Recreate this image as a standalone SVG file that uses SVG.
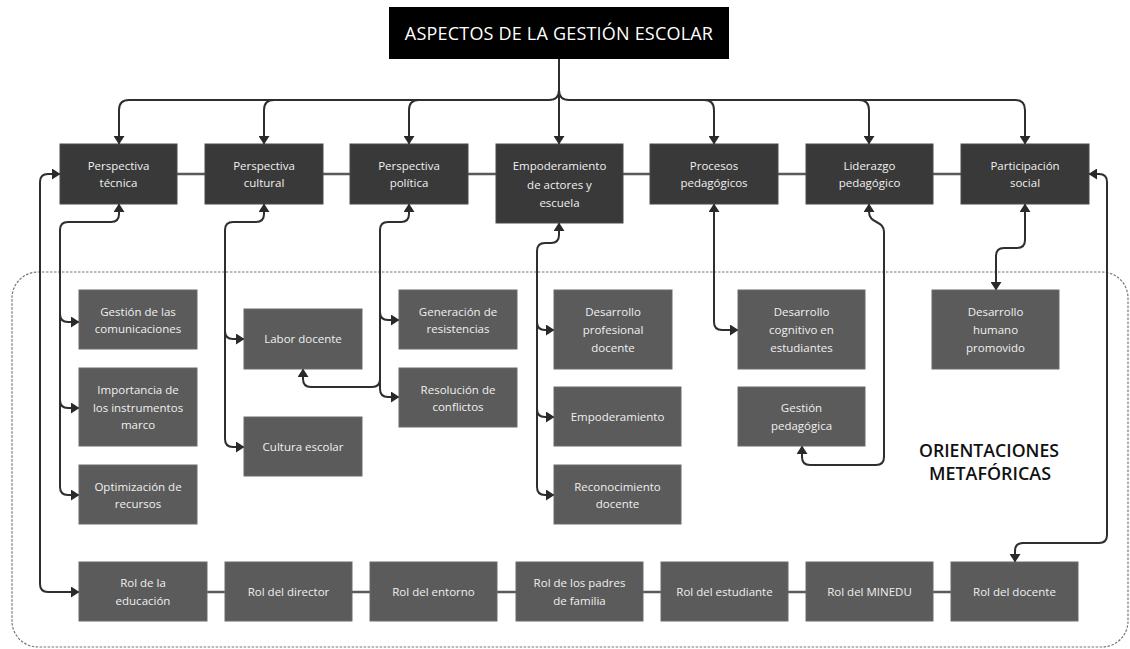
<svg xmlns="http://www.w3.org/2000/svg" width="1130" height="649" viewBox="0 0 1130 649">
<defs>
<marker id="ah" markerUnits="userSpaceOnUse" markerWidth="9" markerHeight="11" refX="8" refY="5.5" orient="auto-start-reverse" viewBox="0 0 9 11">
<path d="M0,0 L8.5,5.5 L0,11 z" fill="#2a2a2a"/>
</marker>
</defs>
<style>
.bg{fill:#ffffff}
.frame{fill:none;stroke:#777;stroke-width:1.2;stroke-dasharray:2.5 1.5}
.link{fill:none;stroke:#5a5a5a;stroke-width:2.5}
.con{fill:none;stroke:#2e2e2e;stroke-width:2}
.arr{marker-end:url(#ah)}
.both{marker-start:url(#ah);marker-end:url(#ah)}
.top{fill:#000}
.main{fill:#393939;stroke:#4a4a4a;stroke-width:1}
.sub{fill:#5b5b5b;stroke:#6a6a6a;stroke-width:1}
.t{font-family:"Open Sans","Liberation Sans",sans-serif;font-size:11.5px;fill:#f0f0f0;text-anchor:middle}
.title{font-family:"Open Sans","Liberation Sans",sans-serif;font-size:18px;fill:#fff;text-anchor:middle;letter-spacing:0.2px}
.orient{font-family:"Open Sans","Liberation Sans",sans-serif;font-size:18.5px;font-weight:600;fill:#111;text-anchor:middle}
</style>
<rect class="bg" x="0" y="0" width="1130" height="649"/>
<rect class="frame" x="12" y="272" width="1116" height="375" rx="26" ry="26"/>

<g id="links">
<path class="link" d="M60,174 H1089"/>
<path class="link" d="M79,592 H1078"/>
</g>

<g id="connectors">
<path class="con arr" d="M559,59 V144"/>
<path class="con arr" d="M559,90 Q559,100 549,100 H129 Q119,100 119,110 V144"/>
<path class="con arr" d="M274,100 Q264,100 264,110 V144"/>
<path class="con arr" d="M419,100 Q409,100 409,110 V144"/>
<path class="con arr" d="M559,90 Q559,100 569,100 H1015 Q1025,100 1025,110 V144"/>
<path class="con arr" d="M704,100 Q714,100 714,110 V144"/>
<path class="con arr" d="M859,100 Q869,100 869,110 V144"/>

<path class="con both" d="M119,204 V214 Q119,222 111,222 H68 Q60,222 60,230 V487 Q60,495 68,495 H79"/>
<path class="con arr" d="M60,314 Q60,322 68,322 H79"/>
<path class="con arr" d="M60,400 Q60,408 68,408 H79"/>

<path class="con both" d="M264,204 V214 Q264,222 256,222 H233 Q225,222 225,230 V439 Q225,447 233,447 H244"/>
<path class="con arr" d="M225,331 Q225,339 233,339 H244"/>

<path class="con both" d="M409,204 V214 Q409,222 401,222 H388 Q380,222 380,230 V389 Q380,397 388,397 H399"/>
<path class="con arr" d="M380,312 Q380,320 388,320 H399"/>
<path class="con arr" d="M380,379 Q380,387 372,387 H311 Q303,387 303,379 V369"/>

<path class="con both" d="M559,223 V235 Q559,243 551,243 H545 Q537,243 537,251 V487 Q537,495 545,495 H554"/>
<path class="con arr" d="M537,322 Q537,330 545,330 H554"/>
<path class="con arr" d="M537,409 Q537,417 545,417 H554"/>

<path class="con both" d="M714,204 V322 Q714,330 722,330 H738"/>

<path class="con both" d="M869,204 V212 C869,224 884,220 884,232 V457 Q884,465 876,465 H810 Q802,465 802,457 V446"/>

<path class="con both" d="M1025,204 V240 Q1025,248 1017,248 H1004 Q996,248 996,256 V290"/>

<path class="con both" d="M60,174 H48 Q40,174 40,182 V584 Q40,592 48,592 H79"/>
<path class="con both" d="M1089,174 H1099 Q1107,174 1107,182 V535 Q1107,543 1099,543 H1023 Q1015,543 1015,551 V562"/>
</g>

<g id="n-title"><rect class="top" x="389" y="7" width="340" height="52"/><text class="title" x="559" y="40">ASPECTOS DE LA GESTIÓN ESCOLAR</text></g>

<g id="n-tecnica"><rect class="main" x="60" y="144" width="117" height="60"/><text class="t" x="118.5" y="170">Perspectiva</text><text class="t" x="118.5" y="187">técnica</text></g>
<g id="n-cultural"><rect class="main" x="205" y="144" width="118" height="60"/><text class="t" x="264" y="170">Perspectiva</text><text class="t" x="264" y="187">cultural</text></g>
<g id="n-politica"><rect class="main" x="350" y="144" width="118" height="60"/><text class="t" x="409" y="170">Perspectiva</text><text class="t" x="409" y="187">política</text></g>
<g id="n-empoderamiento-actores"><rect class="main" x="496" y="144" width="127" height="79"/><text class="t" x="559.5" y="170">Empoderamiento</text><text class="t" x="559.5" y="188.5">de actores y</text><text class="t" x="559.5" y="207">escuela</text></g>
<g id="n-procesos"><rect class="main" x="650" y="144" width="128" height="60"/><text class="t" x="714" y="170">Procesos</text><text class="t" x="714" y="187">pedagógicos</text></g>
<g id="n-liderazgo"><rect class="main" x="806" y="144" width="127" height="60"/><text class="t" x="869.5" y="170">Liderazgo</text><text class="t" x="869.5" y="187">pedagógico</text></g>
<g id="n-participacion"><rect class="main" x="961" y="144" width="128" height="60"/><text class="t" x="1025" y="170">Participación</text><text class="t" x="1025" y="187">social</text></g>

<g id="n-gestion-com"><rect class="sub" x="79" y="290" width="118" height="59"/><text class="t" x="138" y="316">Gestión de las</text><text class="t" x="138" y="333">comunicaciones</text></g>
<g id="n-importancia"><rect class="sub" x="79" y="368" width="118" height="78"/><text class="t" x="138" y="394">Importancia de</text><text class="t" x="138" y="411.5">los instrumentos</text><text class="t" x="138" y="429">marco</text></g>
<g id="n-optimizacion"><rect class="sub" x="79" y="465" width="118" height="59"/><text class="t" x="138" y="491">Optimización de</text><text class="t" x="138" y="508">recursos</text></g>

<g id="n-labor"><rect class="sub" x="244" y="309" width="118" height="60"/><text class="t" x="303" y="343">Labor docente</text></g>
<g id="n-cultura"><rect class="sub" x="244" y="417" width="118" height="59"/><text class="t" x="303" y="451">Cultura escolar</text></g>

<g id="n-generacion"><rect class="sub" x="399" y="290" width="118" height="59"/><text class="t" x="458" y="316">Generación de</text><text class="t" x="458" y="333">resistencias</text></g>
<g id="n-resolucion"><rect class="sub" x="399" y="368" width="118" height="59"/><text class="t" x="458" y="394">Resolución de</text><text class="t" x="458" y="411">conflictos</text></g>

<g id="n-desarrollo-prof"><rect class="sub" x="554" y="290" width="118" height="79"/><text class="t" x="613" y="316">Desarrollo</text><text class="t" x="613" y="334">profesional</text><text class="t" x="613" y="352">docente</text></g>
<g id="n-empoderamiento"><rect class="sub" x="554" y="387" width="127" height="59"/><text class="t" x="617.5" y="421">Empoderamiento</text></g>
<g id="n-reconocimiento"><rect class="sub" x="554" y="465" width="127" height="59"/><text class="t" x="617.5" y="491">Reconocimiento</text><text class="t" x="617.5" y="508">docente</text></g>

<g id="n-desarrollo-cog"><rect class="sub" x="738" y="290" width="127" height="79"/><text class="t" x="801.5" y="316">Desarrollo</text><text class="t" x="801.5" y="334">cognitivo en</text><text class="t" x="801.5" y="352">estudiantes</text></g>
<g id="n-gestion-ped"><rect class="sub" x="738" y="387" width="127" height="59"/><text class="t" x="801.5" y="412">Gestión</text><text class="t" x="801.5" y="430">pedagógica</text></g>

<g id="n-desarrollo-hum"><rect class="sub" x="932" y="290" width="127" height="79"/><text class="t" x="995.5" y="316">Desarrollo</text><text class="t" x="995.5" y="334">humano</text><text class="t" x="995.5" y="352">promovido</text></g>

<g id="n-orientaciones"><text class="orient" x="989" y="457" textLength="140" lengthAdjust="spacingAndGlyphs">ORIENTACIONES</text><text class="orient" x="990" y="480" textLength="122" lengthAdjust="spacingAndGlyphs">METAFÓRICAS</text></g>

<g id="n-rol-educacion"><rect class="sub" x="79" y="562" width="128" height="59"/><text class="t" x="143" y="587">Rol de la</text><text class="t" x="143" y="605">educación</text></g>
<g id="n-rol-director"><rect class="sub" x="225" y="562" width="127" height="59"/><text class="t" x="288.5" y="596">Rol del director</text></g>
<g id="n-rol-entorno"><rect class="sub" x="370" y="562" width="127" height="59"/><text class="t" x="433.5" y="596">Rol del entorno</text></g>
<g id="n-rol-padres"><rect class="sub" x="516" y="562" width="127" height="59"/><text class="t" x="579.5" y="587">Rol de los padres</text><text class="t" x="579.5" y="605">de familia</text></g>
<g id="n-rol-estudiante"><rect class="sub" x="661" y="562" width="127" height="59"/><text class="t" x="724.5" y="596">Rol del estudiante</text></g>
<g id="n-rol-minedu"><rect class="sub" x="806" y="562" width="127" height="59"/><text class="t" x="869.5" y="596">Rol del MINEDU</text></g>
<g id="n-rol-docente"><rect class="sub" x="951" y="562" width="127" height="59"/><text class="t" x="1014.5" y="596">Rol del docente</text></g>
</svg>
